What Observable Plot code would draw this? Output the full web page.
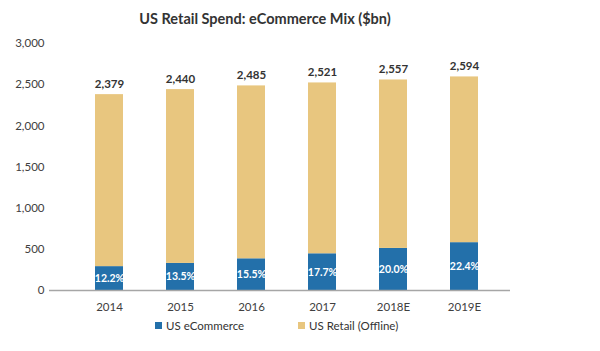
<!DOCTYPE html>
<html>
<head>
<meta charset="utf-8">
<script src="https://cdn.jsdelivr.net/npm/d3@7"></script>
<script src="https://cdn.jsdelivr.net/npm/@observablehq/plot@0.6"></script>
<style>
  body { margin: 0; background: #fff; font-family: Lato, "Open Sans", sans-serif; }
  #wrap { position: relative; width: 600px; height: 351px; }
  #title { position: absolute; top: 10px; left: 0; width: 530px; text-align: center; font-size: 14.5px; font-weight: bold; color: #333; }
  #chart { position: absolute; top: 0; left: 0; }
  #legend { position: absolute; top: 319px; left: 0; width: 600px; height: 20px; font-size: 11.5px; color: #333; }
  .li { position: absolute; top: 0; display: flex; align-items: center; }
  .sw { width: 7px; height: 7px; margin-right: 4px; }
</style>
</head>
<body>
<div id="wrap">
  <div id="title">US Retail Spend: eCommerce Mix ($bn)</div>
  <div id="chart"></div>
  <div id="legend">
    <div class="li" style="left:155px"><div class="sw" style="background:#2370aa"></div>US eCommerce</div>
    <div class="li" style="left:298px"><div class="sw" style="background:#e8c67f"></div>US Retail (Offline)</div>
  </div>
</div>
<script>
const years = ["2014", "2015", "2016", "2017", "2018E", "2019E"];
const totals = [2379, 2440, 2485, 2521, 2557, 2594];
const ecommerce = [290, 329, 385, 446, 511, 581];
const ecomShareLabels = ["12.2%", "13.5%", "15.5%", "17.7%", "20.0%", "22.4%"];
const yTicks = [0, 500, 1000, 1500, 2000, 2500, 3000];

const blue = "#2370aa";
const tan = "#e8c67f";

const stacked = [];
years.forEach((y, i) => {
  stacked.push({year: y, series: "US eCommerce", value: ecommerce[i]});
  stacked.push({year: y, series: "US Retail (Offline)", value: totals[i] - ecommerce[i]});
});
const totalsData = years.map((y, i) => ({year: y, total: totals[i]}));
const shareData = years.map((y, i) => ({year: y, mid: ecommerce[i] / 2, label: ecomShareLabels[i]}));

const chart = Plot.plot({
  width: 600,
  height: 351,
  marginTop: 43,
  marginBottom: 61,
  marginLeft: 49,
  marginRight: 76,
  style: {fontFamily: "Lato, 'Open Sans', sans-serif", fontSize: "11.5px", color: "#404040"},
  x: {domain: years, padding: 0.6, label: null, tickSize: 0, tickPadding: 12},
  y: {domain: [0, 3000], ticks: yTicks, tickFormat: d3.format(","), label: null, tickSize: 0, tickPadding: 5},
  color: {domain: ["US eCommerce", "US Retail (Offline)"], range: [blue, tan]},
  marks: [
    Plot.barY(stacked, {x: "year", y: "value", fill: "series", order: ["US eCommerce", "US Retail (Offline)"]}),
    Plot.ruleY([0], {stroke: "#a6a6a6", strokeWidth: 1.5, insetRight: 14}),
    Plot.text(totalsData, {x: "year", y: "total", text: d => d3.format(",")(d.total), dy: -7, lineAnchor: "bottom", fontWeight: "bold", fill: "#333", fontSize: 11.5}),
    Plot.text(shareData, {x: "year", y: "mid", text: "label", fill: "white", fontWeight: "bold", fontSize: 10.5})
  ]
});
document.getElementById("chart").appendChild(chart);
</script>
</body>
</html>
